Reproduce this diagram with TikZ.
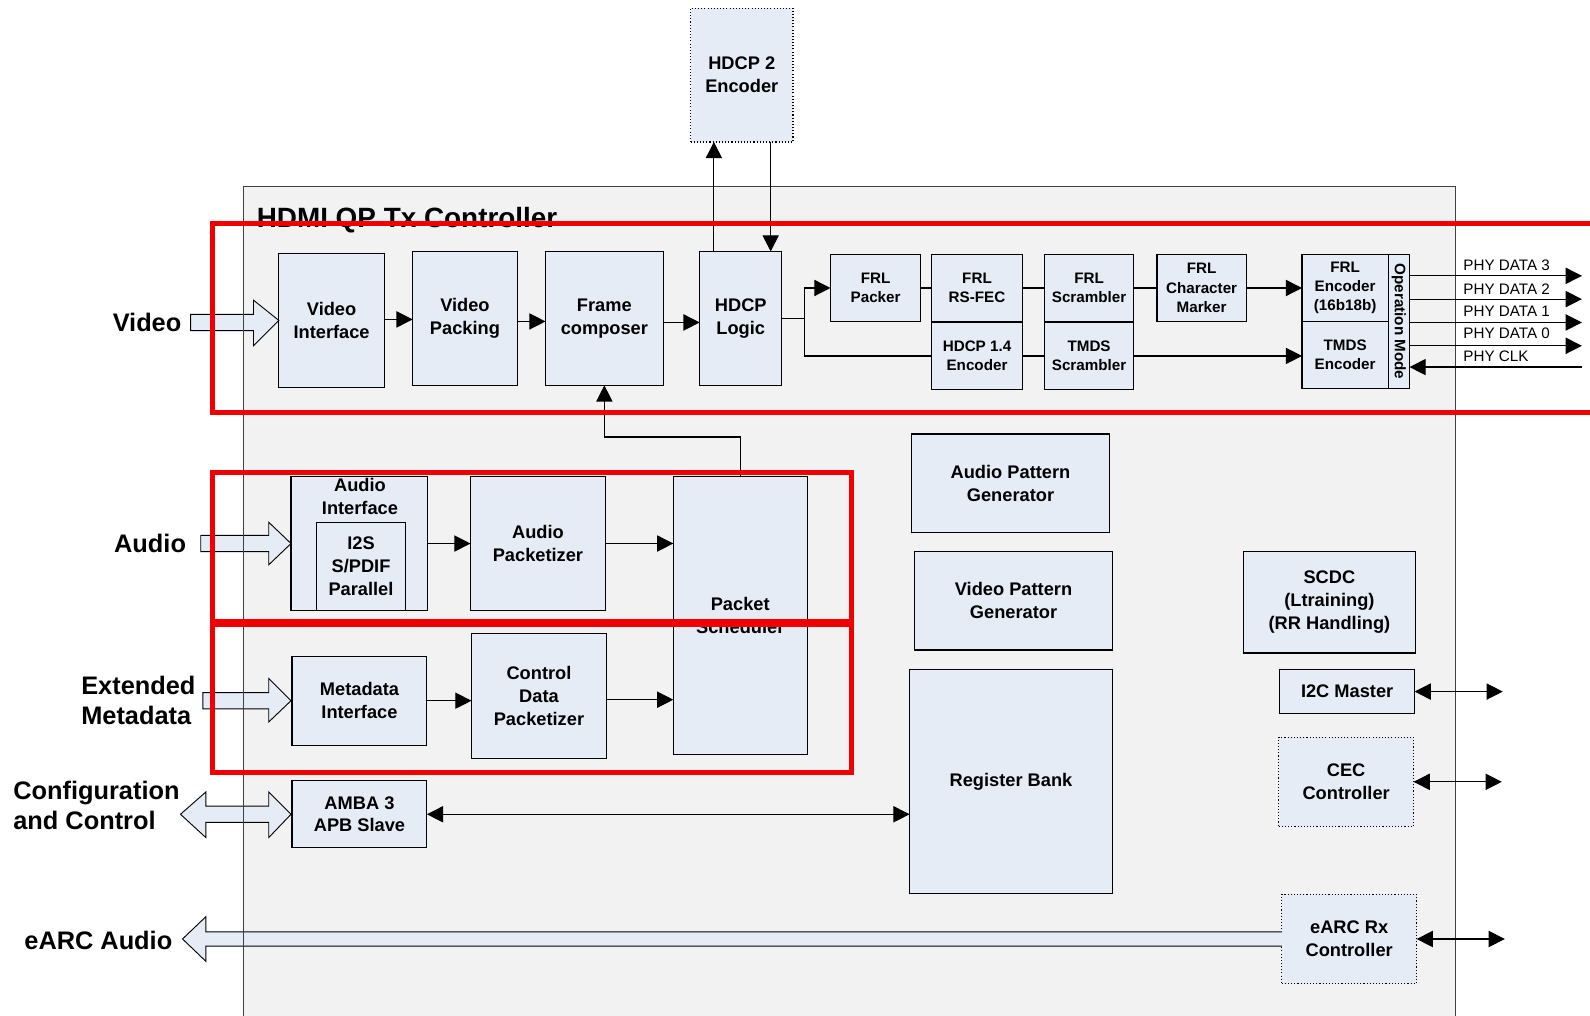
\documentclass[tikz,border=0pt]{standalone}
\usepackage{fontspec}
\setmainfont{Liberation Sans}
\usetikzlibrary{arrows.meta,calc}
\definecolor{blkfill}{RGB}{230,236,246}
\definecolor{ctlfill}{RGB}{242,242,242}
\definecolor{ctlline}{RGB}{64,64,64}
\definecolor{redbox}{RGB}{240,0,0}
\begin{document}
\begin{tikzpicture}[x=1pt,y=-1pt,
  blk/.style={draw=black, fill=blkfill, line width=1.1pt, align=center, inner sep=0pt, outer sep=0pt, font=\bfseries\fontsize{18}{22.5}\selectfont},
  sm/.style={font=\bfseries\fontsize{15}{19}\selectfont},
  dottedbox/.style={dotted, line width=1.1pt},
  sz/.style 2 args={minimum width=#1, minimum height=#2},
  arr/.style={line width=1.2pt, -{Triangle[length=16pt,width=16pt]}},
  darr/.style={line width=1.2pt, {Triangle[length=16pt,width=16pt]}-{Triangle[length=16pt,width=16pt]}},
  plain/.style={line width=1.2pt},
  side/.style={font=\bfseries\fontsize{25}{30}\selectfont, inner sep=0pt},
  phy/.style={font=\fontsize{15}{18}\selectfont, inner sep=0pt, anchor=west},
  hollow/.style={draw=black, fill=blkfill, line width=0.9pt},
  redframe/.style={draw=redbox, line width=5pt}
]
\path[use as bounding box, clip] (0,0) rectangle (1568,1001);
\fill[white] (0,0) rectangle (1568,1001);

% controller background
\fill[ctlfill] (240,184) rectangle (1435,1010);
\node[anchor=base west, inner sep=0pt, font=\bfseries\fontsize{27.5}{32}\selectfont] (title) at (253,224) {HDMI QP Tx Controller};

% video row
\node[blk, sz={104}{132}] (vi) at (327,316) {Video\\Interface};
\node[blk, sz={103}{132}] (vp) at (458.5,314) {Video\\Packing};
\node[blk, sz={116}{132}] (fc) at (596,314) {Frame\\composer};
\node[blk, sz={81}{132}] (hl) at (730.5,314) {HDCP\\Logic};
\node[blk, dottedbox, sz={101}{132}] (h2) at (731.5,74) {HDCP 2\\Encoder};

\node[blk, sm, sz={89}{66}] (frlp) at (863.5,284) {FRL\\Packer};
\node[blk, sm, sz={89}{66}] (frlrs) at (963.5,284) {FRL\\RS-FEC};
\node[blk, sm, sz={88}{66}] (frls) at (1074,284) {FRL\\Scrambler};
\node[blk, sm, sz={88}{66}] (frlc) at (1185,284) {FRL\\Character\\Marker};
\node[blk, sm, sz={89}{66}] (hd14) at (963.5,351) {HDCP 1.4\\Encoder};
\node[blk, sm, sz={88}{66}] (tmdss) at (1074,351) {TMDS\\Scrambler};
\node[blk, sm, sz={85}{66}] (frle) at (1326.5,284) {FRL\\Encoder\\(16b18b)};
\node[blk, sm, sz={85}{66}] (tmdse) at (1326.5,350) {TMDS\\Encoder};
\node[blk, sz={21}{132}] (opm) at (1379.5,317) {};
\node[sm, rotate=-90, inner sep=0pt] (opmt) at (opm) {Operation Mode};

% audio / metadata
\node[blk, sz={135}{132}] (ai) at (354.5,536) {};
\node[font=\bfseries\fontsize{18}{22.5}\selectfont, align=center, inner sep=0pt] (ait) at (355,490) {Audio\\Interface};
\node[blk, sz={88}{87}] (i2s) at (356,558.5) {I2S\\S/PDIF\\Parallel};
\node[blk, sz={133}{132}] (ap) at (530.5,536) {Audio\\Packetizer};
\node[blk, sz={132}{274}] (ps) at (730,607) {Packet\\Scheduler};
\node[blk, sz={133}{88}] (mi) at (354.5,691) {Metadata\\Interface};
\node[blk, sz={133}{123}] (cdp) at (531.5,686.5) {Control\\Data\\Packetizer};
\node[blk, sz={133}{66}] (amba) at (354.5,803) {AMBA 3\\APB Slave};

% right column
\node[blk, sz={195}{97}] (apg) at (996.5,476.5) {Audio Pattern\\Generator};
\node[blk, sz={195}{97}] (vpg) at (999.5,592.5) {Video Pattern\\Generator};
\node[blk, sz={200}{221}] (rb) at (997,770.5) {Register Bank};
\node[blk, sz={170}{100}] (scdc) at (1311,594) {SCDC\\(Ltraining)\\(RR Handling)};
\node[blk, sz={133}{44}] (i2c) at (1328.5,682) {I2C Master};
\node[blk, dottedbox, sz={133}{88}] (cec) at (1327.5,771) {CEC\\Controller};
\node[blk, dottedbox, sz={133}{88}] (earc) at (1330.5,926) {eARC Rx\\Controller};

% hollow arrows
\draw[hollow] (188,310) -- (250,310) -- (250,296) -- (vi.west) -- (250,341) -- (250,326) -- (188,326) -- cycle;
\draw[hollow] (198,528) -- (265,528) -- (265,515) -- (287,536) -- (265,557) -- (265,544) -- (198,544) -- cycle;
\draw[hollow] (200,683) -- (265,683) -- (265,669) -- (287,691) -- (265,712) -- (265,699) -- (200,699) -- cycle;
\draw[hollow] (178,803) -- (203,781) -- (203,795) -- (265,795) -- (265,781) -- (287,803) -- (265,826) -- (265,811) -- (203,811) -- (203,826) -- cycle;
\draw[hollow] (1264,919) -- (203,919) -- (203,904) -- (180,926) -- (203,948) -- (203,933) -- (1264,933);

% controller border
\draw[ctlline, line width=1.1pt] (240,1010) -- (240,184) -- (1435,184) -- (1435,1010);

% side labels
\node[side] (lvideo) at (145,318) {Video};
\node[side] (laudio) at (148,536) {Audio};
\node[side, anchor=west, align=left] (lmeta) at (80,691) {Extended\\Metadata};
\node[side, anchor=west, align=left] (lcfg) at (13,794) {Configuration\\and Control};
\node[side] (learc) at (97,927) {eARC Audio};

% video connectors
\draw[arr] (vi.east |- 0,315) -- (vp.west |- 0,315);
\draw[arr] (vp.east |- 0,317) -- (fc.west |- 0,317);
\draw[arr] (fc.east |- 0,318) -- (hl.west |- 0,318);
\draw[arr] ([xshift=-26.5pt]hl.north) -- ([xshift=-26.5pt]hl.north |- h2.south);
\draw[arr] ([xshift=28.5pt]h2.south) -- ([xshift=28.5pt]h2.south |- hl.north);
\coordinate (sp) at (793,314);
\draw[plain] (hl.east) -- (sp);
\draw[arr] (sp) |- (frlp.west);
\draw[plain] (sp) |- (hd14.west);
\draw[plain] (frlp.east) -- (frlrs.west);
\draw[plain] (frlrs.east) -- (frls.west);
\draw[plain] (frls.east) -- (frlc.west);
\draw[arr] (frlc.east) -- (frle.west);
\draw[plain] (hd14.east) -- (tmdss.west);
\draw[arr] (tmdss.east) -- (tmdse.west |- tmdss.east);

% PHY lines
\coordinate (p3) at (1560,272);
\coordinate (p2) at (1560,295);
\coordinate (p1) at (1560,318);
\coordinate (p0) at (1560,341);
\coordinate (pc) at (1560,362);
\draw[arr] (p3 -| opm.east) -- (p3);
\draw[arr] (p2 -| opm.east) -- (p2);
\draw[arr] (p1 -| opm.east) -- (p1);
\draw[arr] (p0 -| opm.east) -- (p0);
\draw[arr] (pc) -- (pc -| opm.east);
\node[phy] (t3) at (1443,262) {PHY DATA 3};
\node[phy] (t2) at (1443,285) {PHY DATA 2};
\node[phy] (t1) at (1443,307) {PHY DATA 1};
\node[phy] (t0) at (1443,329) {PHY DATA 0};
\node[phy] (tc) at (1443,351) {PHY CLK};

% lower connectors
\draw[arr] (ai.east) -- (ap.west);
\draw[arr] (ap.east) -- (ps.west |- ap.east);
\draw[arr] (mi.east) -- (cdp.west |- mi.east);
\draw[arr] (cdp.east |- 0,690) -- (ps.west |- 0,690);
\coordinate (psj) at (730,431);
\draw[arr] (ps.north) -- (psj) -| (fc.south);
\draw[darr] (amba.east) -- (rb.west |- amba.east);

% right double arrows
\coordinate (ri2c) at (1482,682);
\coordinate (rcec) at (1481,771);
\coordinate (rearc) at (1484,926);
\draw[darr] (i2c.east) -- (ri2c);
\draw[darr] (cec.east) -- (rcec);
\draw[darr] (earc.east) -- (rearc);

% red frames
\draw[redframe] (1580,220) -- (210,220) -- (210,407) -- (1580,407);
\draw[redframe] (210,466) rectangle (840,613);
\draw[redframe] (210,616) rectangle (840,762);
\end{tikzpicture}
\end{document}
